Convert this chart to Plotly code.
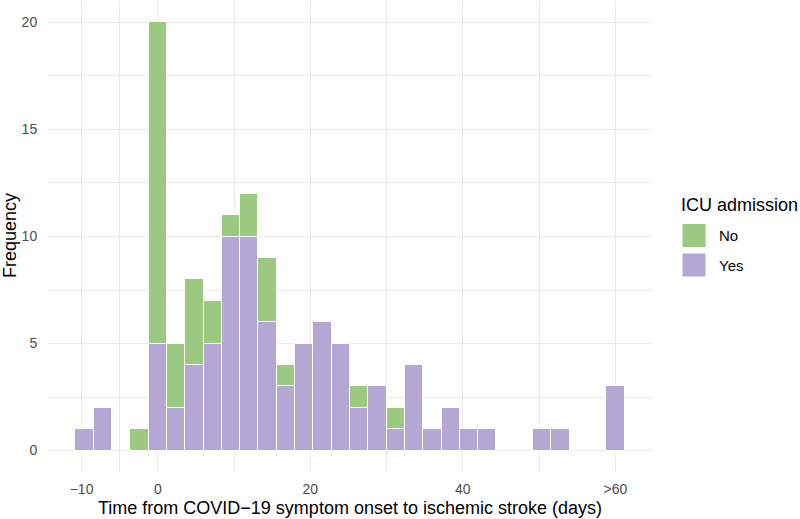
import plotly.graph_objects as go

# ---- data (30 bins of width 2.4, centers) ----
bin_centers = [-9.6, -7.2, -4.8, -2.4, 0.0, 2.4, 4.8, 7.2, 9.6, 12.0,
               14.4, 16.8, 19.2, 21.6, 24.0, 26.4, 28.8, 31.2, 33.6, 36.0,
               38.4, 40.8, 43.2, 45.6, 48.0, 50.4, 52.8, 55.2, 57.6, 60.0]
icu_yes = [1, 2, 0, 0, 5, 2, 4, 5, 10, 10,
           6, 3, 5, 6, 5, 2, 3, 1, 4, 1,
           2, 1, 1, 0, 0, 1, 1, 0, 0, 3]
icu_no = [0, 0, 0, 1, 15, 3, 4, 2, 1, 2,
          3, 1, 0, 0, 0, 1, 0, 1, 0, 0,
          0, 0, 0, 0, 0, 0, 0, 0, 0, 0]
bin_width = 2.4
x_tickvals = [-10, 0, 20, 40, 60]
x_ticktext = ["\u221210", "0", "20", "40", ">60"]
x_minor = [-5, 10, 30, 50, 65]
y_tickvals = [0, 5, 10, 15, 20]
groups = ["No", "Yes"]
x_title = "Time from COVID\u221219 symptom onset to ischemic stroke (days)"
y_title = "Frequency"
legend_title = "ICU admission"

GREEN = "#9AC97F"
PURPLE = "#B4A7D3"
GRID = "#EBEBEB"
FONT = "Liberation Sans, Arial, sans-serif"

W, H = 800, 519
ml, mr, mt, mb = 48, 148, 1, 47
pw, ph = W - ml - mr, H - mt - mb

def px(x):  # pixel x -> paper fraction
    return (x - ml) / pw

def py(y):  # pixel y (from top) -> paper fraction
    return (H - y - mb) / ph

def nz(v):
    return [c if c else None for c in v]

fig = go.Figure()
fig.add_trace(go.Bar(x=bin_centers, y=nz(icu_yes), width=bin_width, name="Yes",
                     marker=dict(color=PURPLE, line=dict(color="white", width=1)),
                     showlegend=False))
fig.add_trace(go.Bar(x=bin_centers, y=nz(icu_no), width=bin_width, name="No",
                     marker=dict(color=GREEN, line=dict(color="white", width=1)),
                     showlegend=False))

# manual legend (ggplot-sized keys)
fig.add_annotation(x=px(679), y=py(205), xref="paper", yref="paper", text=legend_title,
                   showarrow=False, xanchor="left", yanchor="middle",
                   font=dict(size=18, color="black", family=FONT))
key_colors = {"No": GREEN, "Yes": PURPLE}
for i, g in enumerate(groups):
    cy = 235.5 + 29.5 * i
    fig.add_shape(type="rect", xref="paper", yref="paper",
                  x0=px(682), x1=px(706), y0=py(cy - 12), y1=py(cy + 12),
                  fillcolor=key_colors[g], line=dict(color="white", width=1))
    fig.add_annotation(x=px(717), y=py(cy), xref="paper", yref="paper", text=g,
                       showarrow=False, xanchor="left", yanchor="middle",
                       font=dict(size=15, color="black", family=FONT))

# axis titles
fig.add_annotation(x=px(350), y=py(508), xref="paper", yref="paper", text=x_title,
                   showarrow=False, xanchor="center", yanchor="middle",
                   font=dict(size=18, color="black", family=FONT))
fig.add_annotation(x=px(10), y=py(236), xref="paper", yref="paper", text=y_title,
                   showarrow=False, xanchor="center", yanchor="middle", textangle=-90,
                   font=dict(size=18, color="black", family=FONT))

fig.update_layout(
    width=W, height=H, barmode="stack", bargap=0,
    margin=dict(l=ml, r=mr, t=mt, b=mb, autoexpand=False),
    plot_bgcolor="white", paper_bgcolor="white",
    font=dict(family=FONT),
    showlegend=False,
    xaxis=dict(range=[-14.4, 64.8], tickmode="array", tickvals=x_tickvals, ticktext=x_ticktext,
               showgrid=True, gridcolor=GRID, gridwidth=1.1, zeroline=False,
               ticks="outside", ticklen=4, tickcolor="rgba(0,0,0,0)",
               tickfont=dict(size=14, color="#4D4D4D"), automargin=False,
               minor=dict(tickmode="array", tickvals=x_minor, showgrid=True,
                          gridcolor=GRID, gridwidth=0.6, ticks=""),
               showline=False),
    yaxis=dict(range=[-1, 21], tickmode="array", tickvals=y_tickvals,
               showgrid=True, gridcolor=GRID, gridwidth=1.1, zeroline=False,
               ticks="outside", ticklen=7, tickcolor="rgba(0,0,0,0)",
               tickfont=dict(size=14, color="#4D4D4D"), automargin=False,
               minor=dict(tickmode="linear", tick0=0, dtick=2.5, showgrid=True,
                          gridcolor=GRID, gridwidth=0.6, ticks=""),
               showline=False),
)

fig.write_html("out.html", config={"displayModeBar": False},
               post_script="document.body.style.margin='0';document.body.style.padding='0';")
